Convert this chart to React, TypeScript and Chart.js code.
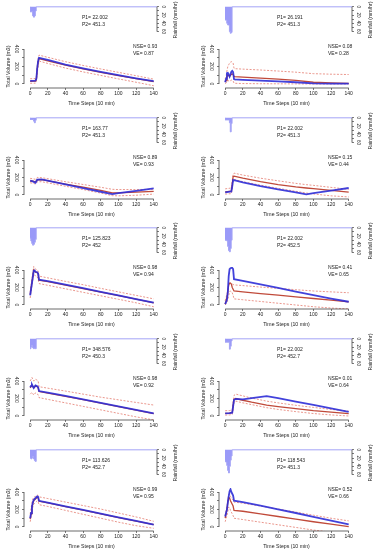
import React, { useEffect, useRef } from 'react';
import { Chart, registerables } from 'chart.js';

Chart.register(...registerables);

const FONT = '"Liberation Sans", Arial, Helvetica, sans-serif';
const TEXT = '#222';
const AXIS = '#444';
const BLUE = 'rgba(45,45,215,0.9)';
const RED = '#c04a3a';
const DASH = '#e47c70';
const RAIN_FILL = 'rgba(120,120,245,0.75)';
const RAIN_LINE = '#a4a4f6';

const X_TICKS = [0, 20, 40, 60, 80, 100, 120, 140];
const Y_TICKS = [0, 100, 200, 300, 400];
const Y_LABELED = [0, 200, 400];
const RAIN_TICKS = [0, 10, 20, 30, 40, 50, 60];
const RAIN_LABELED = [0, 20, 40, 60];

// Panel 1
const S1 = [0, 6, 7, 8, 9, 10, 20, 40, 60, 80, 100, 120, 140];
const OBS1 = [35, 38, 60, 180, 260, 300, 275, 222, 178, 138, 100, 65, 32];
const MED1 = [30, 33, 55, 170, 250, 290, 265, 215, 172, 133, 96, 61, 28];
const UP1 = [60, 62, 85, 215, 295, 330, 305, 255, 212, 172, 133, 95, 55];
const LO1 = [8, 10, 25, 125, 205, 262, 235, 182, 138, 98, 58, 20, -20];
const RT1 = [0, 3, 4, 5, 6, 7, 8, 144];
const RV1 = [0, 12, 22, 25, 22, 10, 0, 0];

// Panel 2
const S2 = [0, 1, 2, 3, 4, 5, 6, 7, 8, 9, 10, 11, 20, 40, 60, 80, 100, 120, 140];
const OBS2 = [20, 60, 125, 128, 110, 85, 110, 140, 150, 135, 55, 52, 48, 38, 30, 20, 8, 5, 4];
const MED2 = [25, 40, 80, 100, 95, 90, 100, 110, 115, 110, 85, 83, 78, 68, 56, 42, 20, 12, 8];
const UP2 = [60, 80, 150, 200, 220, 240, 250, 255, 250, 240, 180, 175, 170, 160, 148, 135, 118, 112, 108];
const LO2 = [5, 10, 25, 40, 35, 30, 38, 45, 40, 35, 10, 8, 5, 3, 2, 1, 0, 0, 0];
const RT2 = [0, 1, 2, 3, 4, 5, 6, 7, 8, 9, 144];
const RV2 = [30, 32, 32, 40, 44, 44, 60, 64, 62, 0, 0];

// Panel 3
const S3 = [0, 3, 6, 8, 13, 40, 60, 80, 93, 100, 120, 140];
const OBS3 = [165, 155, 140, 175, 178, 121, 79, 37, 10, 20, 48, 75];
const MED3 = [160, 158, 150, 172, 175, 125, 90, 52, 25, 24, 33, 42];
const UP3 = [190, 185, 180, 200, 198, 152, 120, 88, 65, 62, 62, 65];
const LO3 = [140, 135, 125, 150, 152, 100, 62, 22, -8, -10, -3, 10];
const RT3 = [0, 4, 5, 6, 7, 8, 144];
const RV3 = [0, 4, 8, 12, 6, 0, 0];

// Panel 4
const S4 = [0, 7, 8, 9, 10, 20, 40, 60, 80, 92, 100, 120, 140];
const OBS4 = [30, 40, 100, 172, 170, 145, 100, 65, 30, 8, 20, 50, 80];
const MED4 = [35, 45, 120, 210, 215, 192, 152, 118, 92, 80, 72, 52, 32];
const UP4 = [70, 80, 160, 240, 250, 228, 192, 162, 133, 118, 110, 87, 65];
const LO4 = [10, 15, 80, 168, 178, 152, 112, 76, 42, 22, 12, -10, -22];
const RT4 = [0, 5, 6, 7, 8, 9, 144];
const RV4 = [0, 5, 12, 34, 14, 0, 0];

// Panel 5
const S5 = [0, 2, 4, 5, 6, 8, 9, 10, 20, 40, 60, 80, 100, 120, 140];
const OBS5 = [110, 250, 390, 395, 380, 375, 360, 290, 272, 232, 192, 150, 110, 68, 26];
const MED5 = [120, 260, 400, 385, 375, 370, 355, 285, 268, 228, 188, 148, 108, 66, 24];
const UP5 = [150, 300, 440, 430, 410, 400, 390, 330, 310, 270, 232, 190, 150, 110, 70];
const LO5 = [80, 220, 350, 345, 330, 320, 300, 245, 225, 185, 145, 105, 65, 25, -20];
const RT5 = [0, 1, 2, 3, 4, 5, 6, 7, 8, 144];
const RV5 = [22, 25, 32, 38, 42, 40, 35, 28, 0, 0];

// Panel 6
const S6 = [0, 2, 3, 4, 5, 6, 7, 8, 9, 10, 20, 40, 60, 80, 100, 120, 140];
const OBS6 = [10, 60, 150, 330, 410, 420, 425, 425, 410, 295, 275, 235, 195, 152, 112, 74, 37];
const MED6 = [10, 80, 150, 230, 250, 250, 240, 200, 180, 160, 150, 131, 112, 93, 74, 55, 36];
const UP6 = [50, 120, 180, 230, 250, 250, 245, 240, 235, 230, 222, 205, 190, 175, 160, 150, 140];
const LO6 = [0, 30, 60, 110, 150, 160, 155, 140, 110, 70, 60, 40, 20, 0, -20, -35, -45];
const RT6 = [0, 1, 2, 3, 4, 5, 6, 7, 8, 9, 144];
const RV6 = [28, 30, 30, 32, 45, 55, 58, 50, 30, 0, 0];

// Panel 7
const S7 = [0, 1, 2, 3, 4, 5, 6, 7, 8, 9, 10, 20, 40, 60, 80, 100, 120, 140];
const OBS7 = [330, 345, 360, 340, 320, 335, 350, 345, 340, 330, 285, 268, 230, 190, 150, 110, 70, 30];
const MED7 = [320, 338, 350, 335, 322, 332, 345, 340, 335, 325, 280, 262, 225, 186, 148, 108, 68, 28];
const UP7 = [400, 420, 440, 420, 400, 405, 420, 415, 410, 400, 335, 318, 285, 250, 215, 185, 155, 125];
const LO7 = [250, 260, 270, 255, 240, 250, 265, 258, 250, 245, 210, 190, 150, 110, 70, 30, -10, -45];
const RT7 = [0, 1, 2, 3, 4, 5, 6, 7, 8, 144];
const RV7 = [22, 24, 20, 16, 22, 24, 22, 24, 0, 0];

// Panel 8
const S8 = [0, 5, 8, 9, 10, 12, 20, 30, 47, 60, 80, 100, 120, 140];
const OBS8 = [30, 33, 38, 110, 185, 195, 190, 205, 228, 203, 165, 126, 88, 48];
const MED8 = [30, 33, 40, 120, 190, 200, 180, 158, 125, 108, 85, 62, 44, 28];
const UP8 = [60, 62, 70, 160, 235, 250, 230, 205, 170, 150, 122, 98, 75, 55];
const LO8 = [10, 12, 18, 80, 150, 170, 150, 130, 95, 75, 50, 28, 12, 0];
const RT8 = [0, 5, 6, 7, 8, 9, 144];
const RV8 = [0, 8, 25, 18, 5, 0, 0];

// Panel 9
const S9 = [0, 1, 2, 3, 4, 5, 6, 7, 8, 9, 10, 20, 40, 60, 80, 100, 120, 140];
const OBS9 = [100, 160, 230, 280, 310, 320, 330, 340, 350, 345, 300, 280, 237, 195, 153, 111, 69, 28];
const MED9 = [90, 150, 220, 270, 300, 310, 320, 330, 340, 335, 295, 275, 233, 192, 150, 108, 66, 26];
const UP9 = [150, 210, 280, 320, 340, 345, 350, 360, 365, 360, 345, 325, 285, 245, 205, 160, 115, 65];
const LO9 = [60, 110, 180, 230, 260, 270, 280, 290, 300, 290, 255, 235, 190, 145, 100, 55, 15, -15];
const RT9 = [0, 1, 2, 3, 4, 5, 6, 7, 8, 144];
const RV9 = [18, 20, 22, 20, 16, 22, 26, 28, 0, 0];

// Panel 10
const S10 = [0, 2, 3, 4, 5, 6, 7, 8, 9, 10, 20, 40, 60, 80, 100, 120, 140];
const OBS10 = [120, 200, 280, 350, 410, 432, 400, 380, 360, 300, 285, 245, 202, 160, 116, 72, 30];
const MED10 = [100, 200, 280, 340, 330, 300, 280, 260, 240, 190, 180, 150, 120, 90, 60, 32, 5];
const UP10 = [130, 230, 310, 370, 380, 350, 330, 320, 310, 285, 272, 240, 205, 170, 135, 100, 70];
const LO10 = [60, 130, 180, 230, 220, 190, 170, 150, 130, 100, 85, 55, 25, -5, -35, -60, -80];
const RT10 = [0, 1, 2, 3, 4, 5, 6, 7, 8, 9, 144];
const RV10 = [25, 28, 30, 38, 50, 56, 40, 25, 15, 0, 0];

const P1_LABELS = ['22.002', '26.191', '163.77', '22.002', '125.823', '22.002', '348.576', '22.002', '113.626', '118.543'];
const P2_LABELS = ['451.3', '451.3', '451.3', '451.3', '452', '452.5', '450.3', '452.7', '452.7', '451.3'];
const NSE_LABELS = ['0.93', '0.08', '0.89', '0.15', '0.98', '0.41', '0.98', '0.01', '0.99', '0.52'];
const VE_LABELS = ['0.87', '0.28', '0.93', '0.44', '0.94', '0.65', '0.92', '0.64', '0.95', '0.66'];

const SERIES = [
  [S1, OBS1, MED1, UP1, LO1, RT1, RV1],
  [S2, OBS2, MED2, UP2, LO2, RT2, RV2],
  [S3, OBS3, MED3, UP3, LO3, RT3, RV3],
  [S4, OBS4, MED4, UP4, LO4, RT4, RV4],
  [S5, OBS5, MED5, UP5, LO5, RT5, RV5],
  [S6, OBS6, MED6, UP6, LO6, RT6, RV6],
  [S7, OBS7, MED7, UP7, LO7, RT7, RV7],
  [S8, OBS8, MED8, UP8, LO8, RT8, RV8],
  [S9, OBS9, MED9, UP9, LO9, RT9, RV9],
  [S10, OBS10, MED10, UP10, LO10, RT10, RV10],
];

const ROWS = [0, 111, 221, 332, 443];
const COLS = [0, 195];
const PW = 185;

const pts = (xs: number[], ys: number[]) => xs.map((x, i) => ({ x, y: ys[i] }));

const rAxisLine = {
  id: 'rAxisLine',
  afterDraw(chart: any) {
    const ctx = chart.ctx;
    Object.values(chart.scales).forEach((s: any) => {
      if (!s.options.display || !s.ticks || s.ticks.length < 2) return;
      const a = s.getPixelForValue(s.ticks[0].value);
      const b = s.getPixelForValue(s.ticks[s.ticks.length - 1].value);
      ctx.save();
      ctx.strokeStyle = AXIS;
      ctx.lineWidth = 0.8;
      ctx.beginPath();
      if (s.isHorizontal()) {
        ctx.moveTo(a, s.top);
        ctx.lineTo(b, s.top);
      } else {
        const x = s.position === 'left' ? s.right : s.left;
        ctx.moveTo(x, a);
        ctx.lineTo(x, b);
      }
      ctx.stroke();
      ctx.restore();
    });
  },
};

function Panel({ idx, left, top }: { idx: number; left: number; top: number }) {
  const rainRef = useRef<HTMLCanvasElement>(null);
  const volRef = useRef<HTMLCanvasElement>(null);

  useEffect(() => {
    const [steps, obs, med, up, lo, rt, rv] = SERIES[idx];
    const rain = new Chart(rainRef.current as HTMLCanvasElement, {
      type: 'line',
      data: {
        datasets: [
          {
            data: pts(rt, rv),
            stepped: 'after',
            fill: 'origin',
            backgroundColor: RAIN_FILL,
            borderColor: RAIN_LINE,
            borderWidth: 1,
            pointRadius: 0,
          } as any,
        ],
      },
      options: {
        responsive: false,
        animation: false,
        events: [],
        layout: { padding: { left: 30, top: 6, bottom: 2.5, right: 0 } },
        plugins: { legend: { display: false }, tooltip: { enabled: false } },
        scales: {
          x: { type: 'linear', display: false, min: 0, max: 144 },
          y: {
            type: 'linear',
            position: 'right',
            reverse: true,
            min: -2,
            max: 70,
            afterFit: (s: any) => {
              s.width = PW - 157;
            },
            afterBuildTicks: (s: any) => {
              s.ticks = RAIN_TICKS.map((v) => ({ value: v }));
            },
            grid: { drawOnChartArea: false, drawTicks: true, tickLength: 2, color: AXIS, lineWidth: 0.7 },
            border: { display: false },
            ticks: {
              autoSkip: false,
              minRotation: -90,
              maxRotation: -90,
              crossAlign: 'center',
              padding: 1.5,
              color: TEXT,
              font: { size: 4.6, family: FONT },
              callback: (v: any) => (RAIN_LABELED.includes(v) ? String(v) : ''),
            },
          } as any,
        },
      },
      plugins: [rAxisLine],
    });

    const vol = new Chart(volRef.current as HTMLCanvasElement, {
      type: 'line',
      data: {
        datasets: [
          { data: pts(steps, obs), borderColor: BLUE, borderWidth: 1.8, pointRadius: 0 },
          { data: pts(steps, med), borderColor: RED, borderWidth: 1.3, pointRadius: 0 },
          { data: pts(steps, up), borderColor: DASH, borderWidth: 0.8, borderDash: [2, 1.5], pointRadius: 0 },
          { data: pts(steps, lo), borderColor: DASH, borderWidth: 0.8, borderDash: [2, 1.5], pointRadius: 0 },
        ],
      },
      options: {
        responsive: false,
        animation: false,
        events: [],
        layout: { padding: { left: 0, top: 7, bottom: 0, right: PW - 159 } },
        plugins: { legend: { display: false }, tooltip: { enabled: false } },
        scales: {
          x: {
            type: 'linear',
            min: -7,
            max: 146,
            afterFit: (s: any) => {
              s.height = 22;
            },
            afterBuildTicks: (s: any) => {
              s.ticks = X_TICKS.map((v) => ({ value: v }));
            },
            grid: { drawOnChartArea: false, drawTicks: true, tickLength: 2, color: AXIS, lineWidth: 0.7 },
            border: { display: false },
            ticks: {
              autoSkip: false,
              maxRotation: 0,
              padding: 0.5,
              color: TEXT,
              font: { size: 5, family: FONT },
            },
            title: {
              display: true,
              text: 'Time Steps (10 min)',
              color: TEXT,
              font: { size: 5.2, family: FONT },
              padding: { top: 0, bottom: 3.8 },
            },
          } as any,
          y: {
            type: 'linear',
            position: 'left',
            min: -46,
            max: 446,
            afterFit: (s: any) => {
              s.width = 24;
            },
            afterBuildTicks: (s: any) => {
              s.ticks = Y_TICKS.map((v) => ({ value: v }));
            },
            grid: { drawOnChartArea: false, drawTicks: true, tickLength: 2, color: AXIS, lineWidth: 0.7 },
            border: { display: false },
            ticks: {
              autoSkip: false,
              minRotation: -90,
              maxRotation: -90,
              crossAlign: 'center',
              padding: 1.3,
              color: TEXT,
              font: { size: 5, family: FONT },
              callback: (v: any) => (Y_LABELED.includes(v) ? String(v) : ''),
            },
            title: {
              display: true,
              text: 'Total Volume (m3)',
              color: TEXT,
              font: { size: 5.2, family: FONT },
              padding: { top: 5, bottom: 0 },
            },
          } as any,
        },
      },
      plugins: [rAxisLine],
    });

    return () => {
      rain.destroy();
      vol.destroy();
    };
  }, [idx]);

  const txt = (x: number, y: number): React.CSSProperties => ({
    position: 'absolute',
    left: x,
    top: y - 3.5,
    fontSize: 5,
    lineHeight: '7px',
    color: TEXT,
    whiteSpace: 'nowrap',
  });

  return (
    <div style={{ position: 'absolute', left, top, width: PW, height: 110 }}>
      <canvas ref={rainRef} width={PW} height={40} style={{ position: 'absolute', left: 0, top: 0, width: PW, height: 40 }} />
      <canvas ref={volRef} width={PW} height={72} style={{ position: 'absolute', left: 0, top: 38, width: PW, height: 72 }} />
      <div style={txt(82, 17)}>{`P1= ${P1_LABELS[idx]}`}</div>
      <div style={txt(82, 24)}>{`P2= ${P2_LABELS[idx]}`}</div>
      <div style={txt(133, 46)}>{`NSE= ${NSE_LABELS[idx]}`}</div>
      <div style={txt(133, 53)}>{`VE= ${VE_LABELS[idx]}`}</div>
      <div
        style={{
          position: 'absolute',
          left: 175,
          top: 20,
          fontSize: 5.2,
          lineHeight: '7px',
          color: TEXT,
          whiteSpace: 'nowrap',
          transform: 'translate(-50%, -50%) rotate(-90deg)',
        }}
      >
        Rainfall (mm/hr)
      </div>
    </div>
  );
}

export default function App() {
  return (
    <div
      style={{
        position: 'fixed',
        left: 0,
        top: 0,
        width: 380,
        height: 550,
        overflow: 'hidden',
        background: '#fff',
        fontFamily: FONT,
      }}
    >
      {SERIES.map((_, i) => (
        <Panel key={i} idx={i} left={COLS[i % 2]} top={ROWS[Math.floor(i / 2)]} />
      ))}
    </div>
  );
}
